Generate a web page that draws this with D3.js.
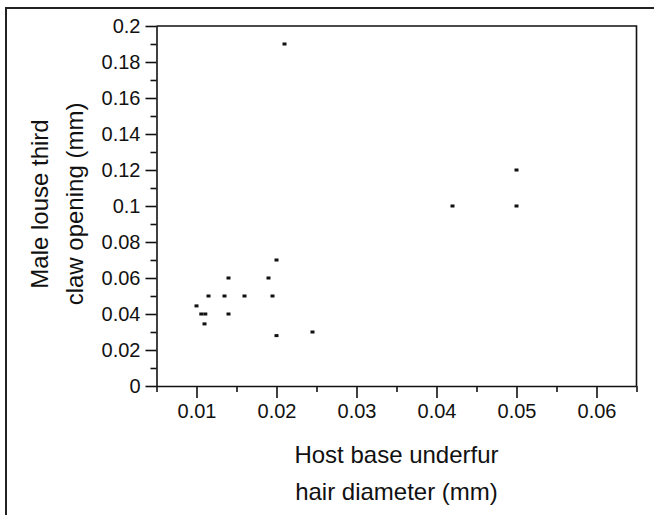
<!DOCTYPE html>
<html>
<head>
<meta charset="utf-8">
<script src="https://cdn.jsdelivr.net/npm/d3@7"></script>
<style>
  html, body { margin: 0; padding: 0; background: #fff; }
  svg { display: block; }
  text { font-family: "Liberation Sans", Arial, sans-serif; fill: #111; }
</style>
</head>
<body>
<svg id="chart" width="654" height="515"></svg>
<script>
// ---- data ----
const hairDiameter = [0.010, 0.0106, 0.0111, 0.011, 0.0115, 0.0135, 0.014, 0.014, 0.016, 0.019, 0.0195, 0.020, 0.020, 0.021, 0.0245, 0.042, 0.050, 0.050];
const clawOpening  = [0.0445, 0.040, 0.040, 0.0345, 0.050, 0.050, 0.060, 0.040, 0.050, 0.060, 0.050, 0.070, 0.028, 0.190, 0.030, 0.100, 0.100, 0.120];
const xTicks = [0.01, 0.02, 0.03, 0.04, 0.05, 0.06];
const xTickLabels = ["0.01", "0.02", "0.03", "0.04", "0.05", "0.06"];
const yTicks = [0, 0.02, 0.04, 0.06, 0.08, 0.10, 0.12, 0.14, 0.16, 0.18, 0.20];
const yTickLabels = ["0", "0.02", "0.04", "0.06", "0.08", "0.1", "0.12", "0.14", "0.16", "0.18", "0.2"];
const xMinorTicks = [0.005, 0.015, 0.025, 0.035, 0.045, 0.055, 0.065];
const yMinorTicks = [0.01, 0.03, 0.05, 0.07, 0.09, 0.11, 0.13, 0.15, 0.17, 0.19];
const xTitle = ["Host base underfur", "hair diameter (mm)"];
const yTitle = ["Male louse third", "claw opening (mm)"];

// ---- layout ----
const svg = d3.select("#chart");
const L = 156.5, R = 636.5, T = 26, B = 386;
const x = d3.scaleLinear().domain([0.005, 0.065]).range([L, R]);
const y = d3.scaleLinear().domain([0, 0.2]).range([B, T]);
const fs = 20;     // tick labels
const fsT = 24;    // axis titles

// outer frame (open to right and bottom)
svg.append("path")
  .attr("d", `M6,515 L6,8 L654,8`)
  .attr("fill", "none").attr("stroke", "#222").attr("stroke-width", 2);

// plot box: top and right borders
svg.append("path")
  .attr("d", `M${L},${T} L${R},${T} L${R},${B}`)
  .attr("fill", "none").attr("stroke", "#111").attr("stroke-width", 1.6);

// minor x ticks
const gx = svg.append("g").attr("transform", `translate(0,${B})`);
gx.call(d3.axisBottom(x).tickValues(xMinorTicks).tickSize(6).tickFormat(""));
// major x ticks
const gx2 = svg.append("g").attr("transform", `translate(0,${B})`);
gx2.call(d3.axisBottom(x).tickValues(xTicks).tickSize(12).tickPadding(6)
  .tickFormat((d, i) => xTickLabels[i]));

// minor y ticks
const gy = svg.append("g").attr("transform", `translate(${L},0)`);
gy.call(d3.axisLeft(y).tickValues(yMinorTicks).tickSize(6).tickFormat(""));
const gy2 = svg.append("g").attr("transform", `translate(${L},0)`);
gy2.call(d3.axisLeft(y).tickValues(yTicks).tickSize(11).tickPadding(5)
  .tickFormat((d, i) => yTickLabels[i]));

svg.selectAll(".domain").attr("stroke", "#111").attr("stroke-width", 1.6);
svg.selectAll(".tick line").attr("stroke", "#111").attr("stroke-width", 1.6);
svg.selectAll(".tick text").attr("font-size", fs)
  .attr("font-family", "Liberation Sans, Arial, sans-serif").attr("fill", "#111");
gx2.selectAll(".domain").remove();
gy2.selectAll(".domain").remove();
gx.select(".domain").attr("d", `M${L},0.5H${R}`);
gy.select(".domain").attr("d", `M0.5,${B}V${T}`);

// points
svg.append("g").selectAll("rect")
  .data(hairDiameter.map((d, i) => [d, clawOpening[i]]))
  .join("rect")
  .attr("x", d => x(d[0]) - 2)
  .attr("y", d => y(d[1]) - 1.5)
  .attr("width", 4).attr("height", 3)
  .attr("fill", "#111");

// axis titles
const cx = (L + R) / 2;
svg.append("text").attr("x", cx).attr("y", 463).attr("text-anchor", "middle")
  .attr("font-size", fsT).text(xTitle[0]);
svg.append("text").attr("x", cx).attr("y", 500).attr("text-anchor", "middle")
  .attr("font-size", fsT).text(xTitle[1]);

const cy = 204;
svg.append("text").attr("transform", `translate(48,${cy}) rotate(-90)`)
  .attr("text-anchor", "middle").attr("font-size", fsT).text(yTitle[0]);
svg.append("text").attr("transform", `translate(83,${cy}) rotate(-90)`)
  .attr("text-anchor", "middle").attr("font-size", fsT).text(yTitle[1]);
</script>
</body>
</html>
